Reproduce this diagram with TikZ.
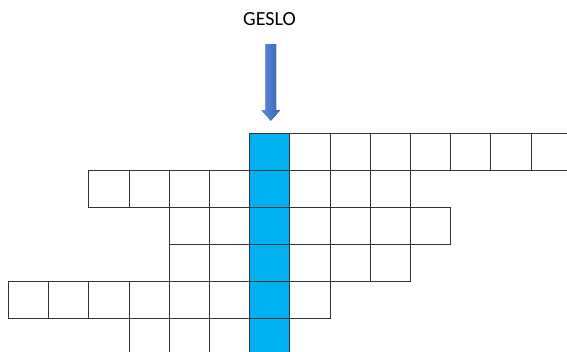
\documentclass[tikz,border=0pt]{standalone}
\usepackage{fontspec}
\setmainfont{Carlito}
\usepackage{tikz}
\usetikzlibrary{positioning}
\definecolor{gesloblue}{HTML}{00B0F0}
\definecolor{arrowlight}{HTML}{5A8CDA}
\definecolor{arrowdark}{HTML}{3863B4}
\tikzset{
	x=1pt, y=-1pt, % pixel-like units, y going down
	cell/.style={draw=black!80, line width=1pt, rectangle, inner sep=0pt,
		minimum width=40.2pt, minimum height=36.8pt, anchor=north west},
	solution/.style={cell, fill=gesloblue},
	blockarrow/.style={left color=arrowlight, right color=arrowdark, draw=none},
}
\begin{document}
\begin{tikzpicture}
	\useasboundingbox (0,0) rectangle (567,352);

	% rows of the puzzle: row/first column/last column
	\foreach \r/\a/\b in {0/6/13, 1/2/9, 2/4/10, 3/4/9, 4/0/7, 5/3/6}{
		\foreach \k in {\a,...,\b}{
			\node[cell] (c-\r-\k) at ({8+40.2*\k},{133.5+36.8*\r}) {};
		}
	}
	% the solution column
	\foreach \r in {0,...,5}{
		\node[solution] (s-\r) at ({8+40.2*6},{133.5+36.8*\r}) {};
	}

	\node (geslo) at (269.5,19.5) {\fontsize{20pt}{24pt}\selectfont GESLO};

	\coordinate (tip) at ([xshift=1pt,yshift=12.8pt]s-0.north);
	\fill[blockarrow] ([xshift=-5.2pt,yshift=76.5pt]tip) -- ([xshift=5.2pt,yshift=76.5pt]tip)
		-- ([xshift=5.2pt,yshift=10.5pt]tip) -- ([xshift=9.2pt,yshift=10.5pt]tip)
		-- (tip)
		-- ([xshift=-9.2pt,yshift=10.5pt]tip) -- ([xshift=-5.2pt,yshift=10.5pt]tip) -- cycle;
\end{tikzpicture}
\end{document}
